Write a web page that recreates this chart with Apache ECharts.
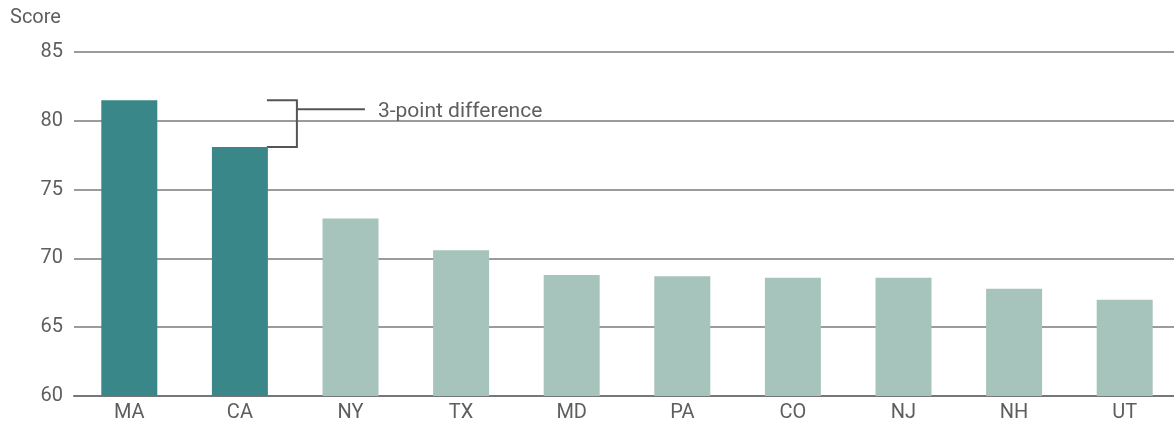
<!DOCTYPE html>
<html>
<head>
<meta charset="utf-8">
<script src="https://cdn.jsdelivr.net/npm/echarts@6/dist/echarts.min.js"></script>
<style>
  html, body { margin: 0; padding: 0; background: #fff; overflow: hidden; }
  #main { width: 1180px; height: 429px; }
</style>
</head>
<body>
<div id="main"></div>
<script>
var states = ['MA', 'CA', 'NY', 'TX', 'MD', 'PA', 'CO', 'NJ', 'NH', 'UT'];
var scores = [81.5, 78.1, 72.9, 70.6, 68.8, 68.7, 68.6, 68.6, 67.8, 67.0];
var highlighted = ['MA', 'CA'];
var yTicks = [60, 65, 70, 75, 80, 85];
var noteText = '3-point difference';

var darkTeal = '#3a8789';
var lightTeal = '#a6c4bb';
var textColor = '#5e5e5e';
var font = 'Roboto';

var myChart = echarts.init(document.getElementById('main'));

var option = {
    animation: false,
    grid: { left: 74, right: 0, top: 52, bottom: 33 },
    xAxis: {
        type: 'category',
        data: states,
        axisTick: { show: false },
        axisLine: { lineStyle: { color: '#777', width: 2 } },
        axisLabel: { color: textColor, fontSize: 20, fontFamily: font, margin: 7 }
    },
    yAxis: {
        type: 'value',
        min: yTicks[0],
        max: yTicks[yTicks.length - 1],
        interval: 5,
        name: 'Score',
        nameLocation: 'end',
        nameGap: 24,
        nameTextStyle: { color: textColor, fontSize: 20, fontFamily: font, align: 'left', padding: [0, 0, 0, -64] },
        axisLine: { show: false },
        axisTick: { show: false },
        axisLabel: { color: textColor, fontSize: 20, fontFamily: font, margin: 11 },
        splitLine: { lineStyle: { color: '#7a7a7a', width: 1.5 } }
    },
    series: [{
        type: 'bar',
        barWidth: 56,
        data: scores.map(function (v, i) {
            return {
                value: v,
                itemStyle: { color: highlighted.indexOf(states[i]) >= 0 ? darkTeal : lightTeal }
            };
        })
    }]
};

myChart.setOption(option);

// bracket between the two highlighted bars
var topPt = myChart.convertToPixel({ gridIndex: 0 }, [states[0], scores[0]]);
var botPt = myChart.convertToPixel({ gridIndex: 0 }, [states[1], scores[1]]);
var xStart = botPt[0] + 27;
var xBrace = xStart + 30;
var midY = topPt[1] + 9;
var lineStyle = { stroke: '#555', lineWidth: 2, fill: null };

myChart.setOption({
    graphic: [
        {
            type: 'polyline',
            shape: { points: [[xStart, topPt[1]], [xBrace, topPt[1]], [xBrace, botPt[1]], [xStart, botPt[1]]] },
            style: lineStyle
        },
        {
            type: 'line',
            shape: { x1: xBrace, y1: midY, x2: xBrace + 68, y2: midY },
            style: lineStyle
        },
        {
            type: 'text',
            x: xBrace + 81,
            y: midY + 3,
            style: { text: noteText, fill: textColor, fontSize: 21, fontFamily: font, verticalAlign: 'middle' }
        }
    ]
});
</script>
</body>
</html>
